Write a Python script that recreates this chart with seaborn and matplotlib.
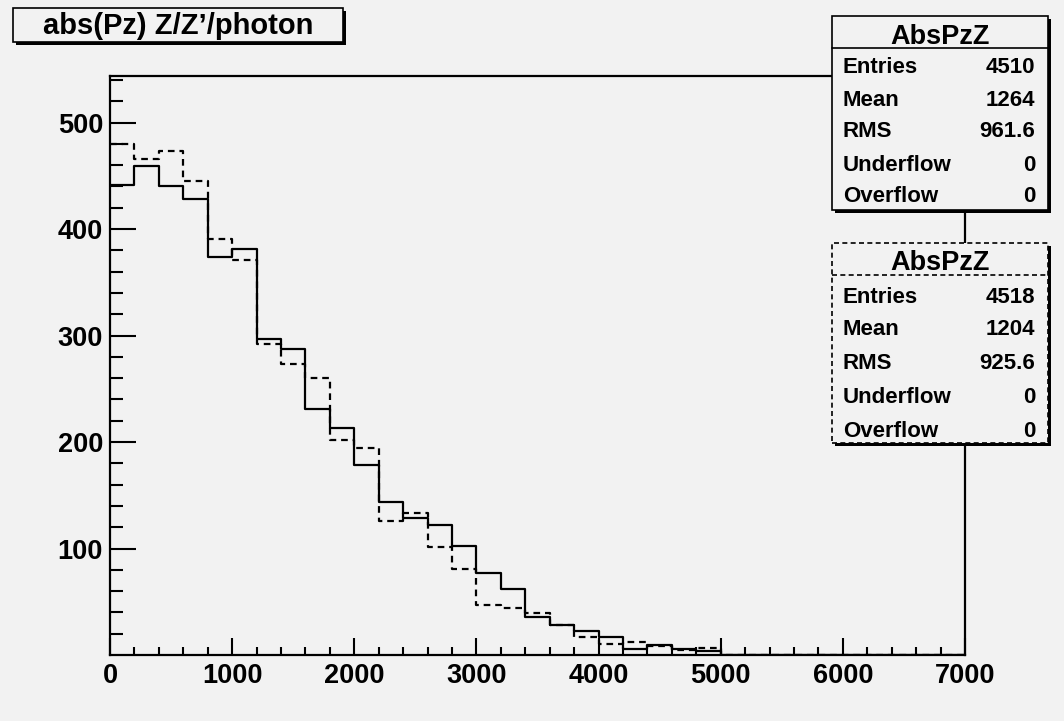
import numpy as np
import pandas as pd
import matplotlib
matplotlib.use("Agg")
import matplotlib.pyplot as plt
import seaborn as sns
from matplotlib.patches import Rectangle
from matplotlib.lines import Line2D

# ---------------- data ----------------
bin_edges = list(range(0, 7001, 200))
solid_counts = [441, 459, 440, 428, 374, 381, 297, 287, 231, 213,
                178, 144, 129, 122, 102, 77, 62, 36, 28, 23,
                17, 6, 9, 6, 4, 0, 0, 0, 0, 0,
                0, 0, 0, 0, 0]
dashed_counts = [480, 466, 473, 445, 391, 371, 292, 273, 260, 202,
                 194, 126, 133, 101, 81, 47, 44, 39, 28, 17,
                 10, 12, 8, 5, 7, 0, 0, 0, 0, 0,
                 0, 0, 0, 0, 0]
title_text = "abs(Pz) Z/Z\u2019/photon"
stat_labels = ["Entries", "Mean", "RMS", "Underflow", "Overflow"]
stat_solid = ["4510", "1264", "961.6", "0", "0"]
stat_dashed = ["4518", "1204", "925.6", "0", "0"]
stat_name = "AbsPzZ"
x_major = [0, 1000, 2000, 3000, 4000, 5000, 6000, 7000]
y_major = [100, 200, 300, 400, 500]

# ---------------- style ----------------
sns.set_style("ticks")
BG = "#f2f2f2"
plt.rcParams["font.family"] = ["Liberation Sans", "DejaVu Sans"]
plt.rcParams["font.weight"] = "bold"
plt.rcParams["text.color"] = "black"
plt.rcParams["xtick.color"] = "black"
plt.rcParams["ytick.color"] = "black"
plt.rcParams["axes.edgecolor"] = "black"

W, H = 1064, 721
fig = plt.figure(figsize=(W / 100, H / 100), dpi=100, facecolor=BG)

def fx(x):
    return x / W

def fy(y):
    return 1 - y / H

ax = fig.add_axes([fx(110), fy(655), (965 - 110) / W, (655 - 75.7) / H])
ax.set_facecolor(BG)

centers = [(a + b) / 2 for a, b in zip(bin_edges[:-1], bin_edges[1:])]
df = pd.DataFrame({"pz": centers, "solid": solid_counts, "dashed": dashed_counts})

sns.histplot(data=df, x="pz", weights="dashed", bins=bin_edges, element="step",
             fill=False, color="black", linewidth=1.6, linestyle=(0, (3, 2.2)), ax=ax)
sns.histplot(data=df, x="pz", weights="solid", bins=bin_edges, element="step",
             fill=False, color="black", linewidth=1.6, ax=ax)

ax.set_xlim(0, 7000)
ax.set_ylim(0, 544)
ax.set_xlabel("")
ax.set_ylabel("")

for s in ax.spines.values():
    s.set_visible(True)
    s.set_linewidth(1.6)
    s.set_color("black")

ax.set_xticks(x_major)
ax.set_xticklabels([str(v) for v in x_major])
ax.set_xticks(np.arange(0, 7001, 200), minor=True)
ax.set_yticks(y_major)
ax.set_yticklabels([str(v) for v in y_major])
ax.set_yticks(np.arange(20, 541, 20), minor=True)

ax.tick_params(axis="y", which="major", direction="in", length=18.7, width=1.5,
               labelsize=19.5, pad=5, right=False, colors="black")
ax.tick_params(axis="y", which="minor", direction="in", length=9.4, width=1.5, right=False,
               colors="black")
ax.tick_params(axis="x", which="major", direction="in", length=12, width=1.5,
               labelsize=19.5, pad=6, top=False, colors="black")
ax.tick_params(axis="x", which="minor", direction="in", length=5.8, width=1.5, top=False,
               colors="black")
for lab in ax.get_xticklabels() + ax.get_yticklabels():
    lab.set_fontweight("bold")
    lab.set_color("black")

# ---------------- boxes ----------------
def box(x0, y0, x1, y1, ls="-", shadow=3):
    fig.add_artist(Rectangle((fx(x0 + shadow), fy(y1 + shadow)), (x1 - x0) / W, (y1 - y0) / H,
                             transform=fig.transFigure, facecolor="black",
                             edgecolor="none", zorder=5))
    fig.add_artist(Rectangle((fx(x0), fy(y1)), (x1 - x0) / W, (y1 - y0) / H,
                             transform=fig.transFigure, facecolor=BG,
                             edgecolor="black", linewidth=1.2, linestyle=ls, zorder=6))

def hline(x0, x1, y, ls="-"):
    fig.add_artist(Line2D([fx(x0), fx(x1)], [fy(y), fy(y)], transform=fig.transFigure,
                          color="black", linewidth=1.2, linestyle=ls, zorder=7))

# title box
box(13, 8, 343, 42)
fig.text(fx(178.5), fy(33.5), title_text, ha="center", va="baseline",
         fontsize=21, fontweight="bold", color="black", zorder=8)

def stat_box(y0, y1, yhead, head_base, row_bases, values, ls):
    box(832, y0, 1048, y1, ls=ls)
    hline(832, 1048, yhead, ls=ls)
    fig.text(fx(940), fy(head_base), stat_name, ha="center", va="baseline",
             fontsize=19.5, fontweight="bold", color="black", zorder=8)
    for lab, val, yb in zip(stat_labels, values, row_bases):
        fig.text(fx(843), fy(yb), lab, ha="left", va="baseline",
                 fontsize=16, fontweight="bold", color="black", zorder=8)
        fig.text(fx(1035), fy(yb), val, ha="right", va="baseline",
                 fontsize=16, fontweight="bold", color="black", zorder=8)

stat_box(16, 210, 48, 44.3, [73.3, 105.7, 137.3, 170.7, 201.7], stat_solid, "-")
stat_box(243, 443, 275, 270, [302.7, 335, 369, 403.3, 436.7], stat_dashed, (0, (3, 2)))

fig.savefig("out.png", dpi=100, facecolor=BG)
